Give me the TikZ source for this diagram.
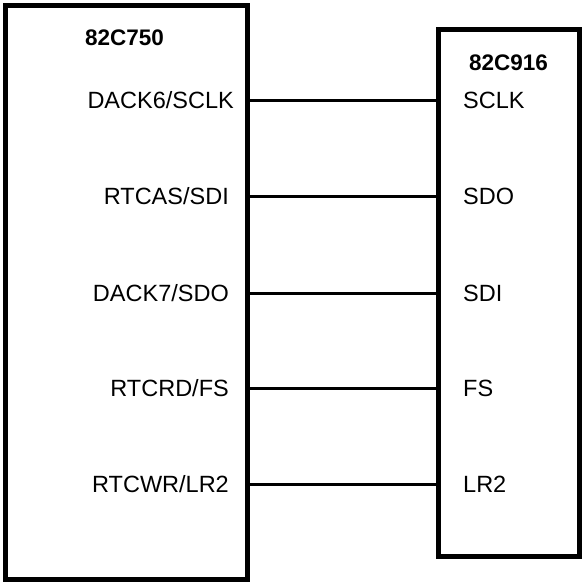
\documentclass[tikz,border=0pt]{standalone}
\usepackage{fontspec}
\setmainfont{Liberation Sans}
\begin{document}
\begin{tikzpicture}[x=1pt,y=1pt,
  chip/.style={draw, line width=5pt, outer sep=0pt, inner sep=0pt, anchor=north west},
  lpin/.style={anchor=base east, inner sep=0pt, font=\fontsize{23.5}{26}\selectfont},
  rpin/.style={anchor=base west, inner sep=0pt, font=\fontsize{23.5}{26}\selectfont},
  title/.style={anchor=base west, inner sep=0pt, font=\fontsize{22.5}{25}\selectfont\bfseries},
  wire/.style={line width=3pt}]
\useasboundingbox (0,0) rectangle (584,-582);
\node[chip, minimum width=242pt, minimum height=574pt] (L) at (5.5,-5.5) {};
\node[chip, minimum width=141.5pt, minimum height=526.5pt] (R) at (438,-29.5) {};
\node[title] (tl) at (85,-45) {82C750};
\node[title] (tr) at (469,-70) {82C916};
\foreach \i/\y/\x/\a/\b in {1/100/234/DACK6\slash SCLK/SCLK,2/196/229/RTCAS\slash SDI/SDO,3/293/229/DACK7\slash SDO/SDI,4/388/229/RTCRD\slash FS/FS,5/484/229/RTCWR\slash LR2/LR2}{
  \coordinate (p\i) at (0,-\y);
  \node[lpin] (la\i) at (\x,-\y-8.4) {\a};
  \node[rpin] (ra\i) at (463,-\y-8.4) {\b};
  \draw[wire] (L.east |- p\i) -- (R.west |- p\i);
}
\end{tikzpicture}
\end{document}
